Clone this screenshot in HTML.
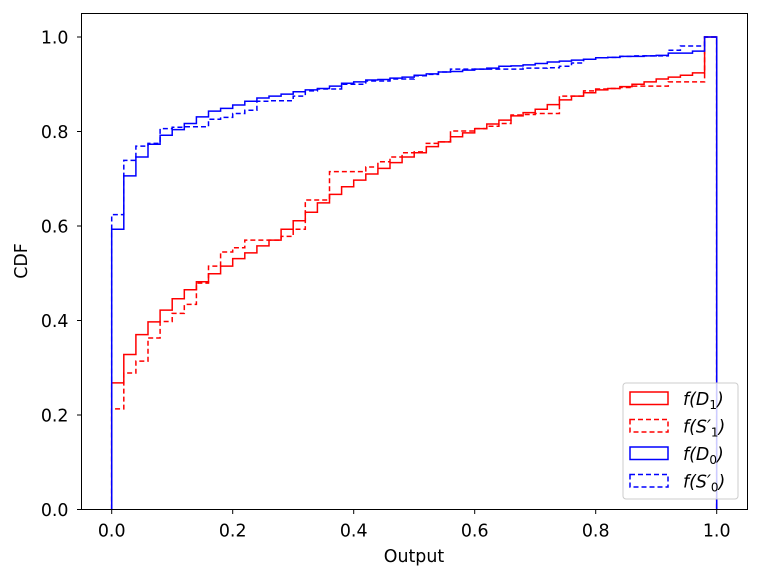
<!DOCTYPE html>
<html><head><meta charset="utf-8"><style>
html,body{margin:0;padding:0;background:#fff;}
svg text{font-family:"DejaVu Sans","Liberation Sans",sans-serif;font-size:17.4px;fill:#000;}
</style></head><body>
<svg id="chart" width="761" height="580" xmlns="http://www.w3.org/2000/svg">
<rect x="0" y="0" width="761" height="580" fill="#fff"/>
<g id="series"></g>
<g id="axes"></g>
</svg>
<script>
const xTicks=[0,0.2,0.4,0.6,0.8,1.0];
const xTickLabels=["0.0","0.2","0.4","0.6","0.8","1.0"];
const yTicks=[0,0.2,0.4,0.6,0.8,1.0];
const yTickLabels=["0.0","0.2","0.4","0.6","0.8","1.0"];
const binEdgesStart=0, binWidth=0.02;
const redSolid=[0.268,0.328,0.370,0.397,0.422,0.446,0.465,0.482,0.499,0.515,0.531,0.543,0.558,0.570,0.593,0.611,0.629,0.649,0.667,0.683,0.697,0.710,0.722,0.734,0.746,0.755,0.768,0.778,0.789,0.797,0.806,0.816,0.824,0.833,0.840,0.847,0.857,0.867,0.875,0.882,0.888,0.891,0.895,0.900,0.905,0.911,0.915,0.919,0.924,1.0];
const redDashed=[0.213,0.289,0.314,0.363,0.398,0.415,0.434,0.479,0.515,0.545,0.554,0.570,0.570,0.570,0.578,0.593,0.655,0.655,0.715,0.715,0.715,0.725,0.736,0.746,0.755,0.757,0.775,0.778,0.801,0.801,0.806,0.811,0.817,0.835,0.836,0.838,0.838,0.875,0.875,0.886,0.890,0.891,0.893,0.896,0.896,0.896,0.905,0.905,0.905,1.0];
const blueSolid=[0.593,0.706,0.746,0.773,0.792,0.804,0.817,0.831,0.843,0.849,0.856,0.864,0.871,0.875,0.879,0.884,0.888,0.891,0.896,0.902,0.905,0.909,0.910,0.913,0.915,0.919,0.922,0.926,0.927,0.930,0.932,0.934,0.938,0.939,0.941,0.944,0.947,0.949,0.951,0.953,0.956,0.957,0.959,0.959,0.960,0.961,0.966,0.966,0.970,1.0];
const blueDashed=[0.624,0.739,0.769,0.775,0.806,0.809,0.810,0.810,0.826,0.830,0.838,0.845,0.864,0.865,0.865,0.875,0.886,0.890,0.890,0.900,0.900,0.907,0.907,0.911,0.911,0.918,0.921,0.926,0.932,0.932,0.932,0.932,0.932,0.932,0.934,0.934,0.935,0.938,0.945,0.953,0.956,0.957,0.959,0.960,0.960,0.960,0.972,0.981,0.981,1.0];

const NS="http://www.w3.org/2000/svg";
const L=81.5,R=747.5,T=13.5,B=509.5;
const xs=v=>111.7+v*605;
const ys=v=>509.5-v*472.5;
const series=document.getElementById('series'), axes=document.getElementById('axes');
function mk(tag,attrs,parent){const e=document.createElementNS(NS,tag);for(const k in attrs)e.setAttribute(k,attrs[k]);parent.appendChild(e);return e;}

function stepPath(vals){
  let d='M'+xs(binEdgesStart)+','+ys(0);
  vals.forEach((v,i)=>{const x0=xs(binEdgesStart+i*binWidth),x1=xs(binEdgesStart+(i+1)*binWidth);d+=' L'+x0+','+ys(v)+' L'+x1+','+ys(v);});
  d+=' L'+xs(binEdgesStart+vals.length*binWidth)+','+ys(0);
  return d;
}
const defs=[[redSolid,'red',null,'series-f-d1'],[redDashed,'red','5,3','series-f-s1'],[blueSolid,'blue',null,'series-f-d0'],[blueDashed,'blue','5,3','series-f-s0']];
defs.forEach(s=>{
  const p=mk('path',{d:stepPath(s[0]),fill:'none',stroke:s[1],'stroke-width':1.5},series);
  if(s[2])p.setAttribute('stroke-dasharray',s[2]);
  
  
});

const frame=mk('rect',{x:L,y:T,width:R-L,height:B-T,fill:'none',stroke:'#000','stroke-width':1},axes);


xTicks.forEach((v,i)=>{
  const x=xs(v);
  mk('line',{x1:x,x2:x,y1:B,y2:B+4.5,stroke:'#000','stroke-width':1},axes);
  const t=mk('text',{x:x,y:B+27,'text-anchor':'middle'},axes);t.textContent=xTickLabels[i];
  
  
});
yTicks.forEach((v,i)=>{
  const y=ys(v);
  mk('line',{x1:L-4.5,x2:L,y1:y,y2:y,stroke:'#000','stroke-width':1},axes);
  const t=mk('text',{x:L-13,y:y+6.5,'text-anchor':'end'},axes);t.textContent=yTickLabels[i];
  
  
});
const xl=mk('text',{x:414,y:562,'text-anchor':'middle'},axes);xl.textContent='Output';


const yl=mk('text',{x:0,y:0,'text-anchor':'middle',transform:'translate(27,261) rotate(-90)'},axes);yl.textContent='CDF';



// legend
const lg=mk('g',{},axes);


mk('rect',{x:623,y:383,width:115,height:116,rx:3,fill:'#fff','fill-opacity':0.8,stroke:'#ccc','stroke-width':1},lg);
const labels=[['f(D','1',')'],['f(S′','1',')'],['f(D','0',')'],['f(S′','0',')']];
const names=['legend-entry-f-d1','legend-entry-f-s1','legend-entry-f-d0','legend-entry-f-s0'];
defs.forEach((s,i)=>{
  const y=392+i*27.5;
  const r=mk('rect',{x:630,y:y,width:38,height:12.5,fill:'none',stroke:s[1],'stroke-width':1.5},lg);
  if(s[2])r.setAttribute('stroke-dasharray',s[2]);
  const t=mk('text',{x:683,y:y+13,'font-style':'italic','font-size':'17px'},lg);
  
  
  t.appendChild(document.createTextNode(labels[i][0]));
  const sub=mk('tspan',{dy:4,'font-size':'12px','font-style':'normal'},t);sub.textContent=labels[i][1];
  const cl=mk('tspan',{dy:-4},t);cl.textContent=labels[i][2];
});
</script>
</body></html>
